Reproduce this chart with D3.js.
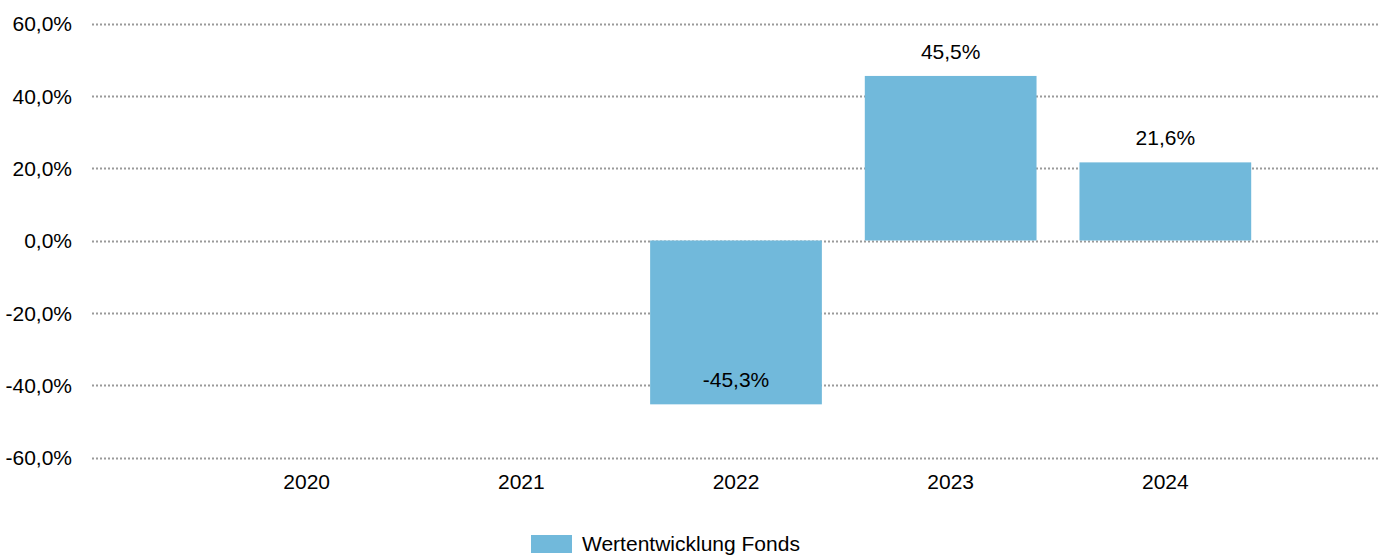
<!DOCTYPE html>
<html>
<head>
<meta charset="utf-8">
<script src="https://cdn.jsdelivr.net/npm/d3@7"></script>
<style>
  html, body { margin: 0; padding: 0; background: #fff; }
  svg { display: block; font-family: "Liberation Sans", Arial, sans-serif; }
</style>
</head>
<body>
<svg id="chart" width="1387" height="555"></svg>
<script>
// Annual performance of the fund (percent); null = no data for that year
const years = ["2020", "2021", "2022", "2023", "2024"];
const performance = [null, null, -45.3, 45.5, 21.6];
const yTicks = [-60, -40, -20, 0, 20, 40, 60];
const seriesName = "Wertentwicklung Fonds";

const barColor = "#71b9db";
const gridColor = "#9a9a9a";
const fontSize = 21;

const svg = d3.select("#chart");
const plotLeft = 92, plotRight = 1380;
const slot = (plotRight - plotLeft) / 6;

const x = d3.scaleBand()
  .domain(years)
  .range([plotLeft + slot / 2, plotRight - slot / 2])
  .paddingInner(0.2)
  .paddingOuter(0.1);

const y = d3.scaleLinear().domain([-60, 60]).range([457.5, 23.5]);

// German number format with a plain hyphen for negatives
const fmt = v => (v < 0 ? "-" : "") + d3.format(".1f")(Math.abs(v)).replace(".", ",") + "%";

// Percent labels on the left
const yAxis = d3.axisLeft(y)
  .tickValues(yTicks)
  .tickFormat(fmt)
  .tickSize(0)
  .tickPadding(0);

const gy = svg.append("g").attr("transform", `translate(72,0)`).call(yAxis);
gy.select(".domain").remove();
gy.selectAll("text")
  .attr("font-size", fontSize)
  .attr("fill", "#000")
  .attr("font-family", "Liberation Sans, Arial, sans-serif")
  .attr("dy", "0.35em");

// Dotted gridlines
svg.append("g").selectAll("line")
  .data(yTicks)
  .join("line")
  .attr("x1", plotLeft)
  .attr("x2", plotRight)
  .attr("y1", d => Math.round(y(d)) + 0.5)
  .attr("y2", d => Math.round(y(d)) + 0.5)
  .attr("stroke", gridColor)
  .attr("stroke-width", 2)
  .attr("stroke-dasharray", "2,2");

// Bars
const rows = years.map((yr, i) => ({ year: yr, value: performance[i] }))
  .filter(d => d.value !== null);

svg.append("g").selectAll("rect")
  .data(rows)
  .join("rect")
  .attr("x", d => x(d.year))
  .attr("width", x.bandwidth())
  .attr("y", d => y(Math.max(0, d.value)))
  .attr("height", d => Math.abs(y(d.value) - y(0)))
  .attr("fill", barColor);

// Value labels
svg.append("g").selectAll("text")
  .data(rows)
  .join("text")
  .attr("x", d => x(d.year) + x.bandwidth() / 2)
  .attr("y", d => y(d.value) - 17)
  .attr("text-anchor", "middle")
  .attr("font-size", fontSize)
  .attr("fill", "#000")
  .text(d => fmt(d.value));

// Year labels
const xAxis = d3.axisBottom(x).tickSize(0).tickPadding(0);
const gx = svg.append("g").attr("transform", "translate(0,474)").call(xAxis);
gx.select(".domain").remove();
gx.selectAll("text")
  .attr("font-size", fontSize)
  .attr("fill", "#000")
  .attr("font-family", "Liberation Sans, Arial, sans-serif")
  .attr("dy", "0.71em");

// Legend
const legend = svg.append("g").attr("transform", "translate(531,535)");
legend.append("rect").attr("width", 41).attr("height", 18).attr("fill", barColor);
legend.append("text")
  .attr("x", 51)
  .attr("y", 16)
  .attr("font-size", fontSize)
  .attr("fill", "#000")
  .text(seriesName);
</script>
</body>
</html>
